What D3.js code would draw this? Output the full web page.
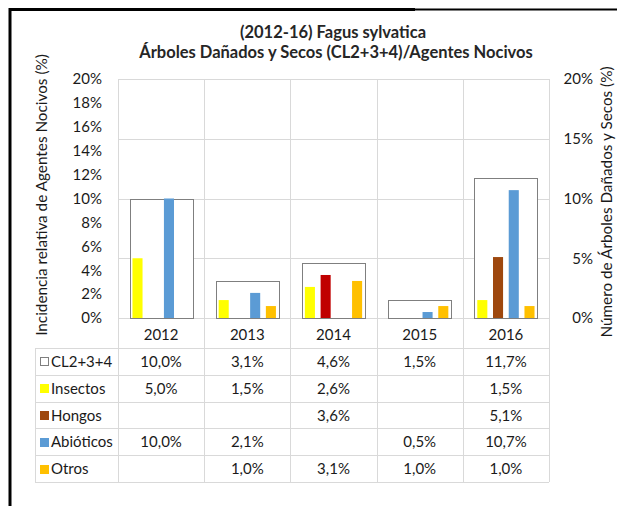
<!DOCTYPE html>
<html>
<head>
<meta charset="utf-8">
<script src="https://cdn.jsdelivr.net/npm/d3@7"></script>
<style>
  html, body { margin: 0; padding: 0; background: #fff; }
  svg { display: block; font-family: Lato, "Open Sans", sans-serif; }
</style>
</head>
<body>
<div id="chart"></div>
<script>
// ==================== données ====================//
const years = ["2012", "2013", "2014", "2015", "2016"];
const seriesNames = ["Insectos", "Hongos", "Abióticos", "Otros"];

// Árboles dañados y secos (eje derecho)
const cl234 = [10.0, 3.1, 4.6, 1.5, 11.7];
// agentes nocivos (eje izquierdo)
const insectos = [5.0, 1.5, 2.6, null, 1.5];
const hongos = [null, null, 3.6, null, 5.1];
const abioticos = [10.0, 2.1, null, 0.5, 10.7];
const otros = [null, 1.0, 3.1, 1.0, 1.0];

const leftTicks = [0, 2, 4, 6, 8, 10, 12, 14, 16, 18, 20];
const rightTicks = [0, 5, 10, 15, 20];

const seriesValues = [insectos, hongos, abioticos, otros];
const seriesColors = ["#FFFF00", "#9E480E", "#5B9BD5", "#FFC000"];
// en 2014 la barra de hongos sale en rojo
const hongos2014Color = "#C00000";

// ==================== mise en page ====================//
const width = 617;
const height = 506;
const plotLeft = 118, plotRight = 549, plotTop = 79, plotBottom = 318;
const tableLeft = 35, tableTop = 348, rowH = 26.8;
const textColor = "#1a1a1a";
const gridColor = "#d9d9d9";
const fs = 15;

const svg = d3.select("#chart")
    .append("svg")
    .attr("width", width)
    .attr("height", height);

// cadre noir (à gauche et en haut seulement, le reste sort de l'image)
svg.append("path")
    .attr("d", `M10,${height} L10,9.5 L415,9.5`)
    .attr("fill", "none")
    .attr("stroke", "#000")
    .attr("stroke-width", 3);
svg.append("line")
    .attr("x1", 415).attr("x2", width)
    .attr("y1", 9.5).attr("y2", 9.5)
    .attr("stroke", "#000")
    .attr("stroke-width", 2);

const x = d3.scaleBand()
    .domain(years)
    .range([plotLeft, plotRight])
    .padding(0);

const y = d3.scaleLinear()
    .domain([0, 20])
    .range([plotBottom, plotTop]);

// barre CL2+3+4 dans chaque colonne
const outer = d3.scaleBand()
    .domain(["cl"])
    .range([0, x.bandwidth()])
    .paddingOuter(0.185);

// barres des agents à l'intérieur de la barre CL
const inner = d3.scaleBand()
    .domain(seriesNames)
    .range([0, outer.bandwidth()])
    .paddingInner(0.36)
    .paddingOuter(0.18);

// grille horizontale
svg.append("g")
    .selectAll("line")
    .data(rightTicks)
    .enter()
    .append("line")
    .attr("x1", plotLeft).attr("x2", plotRight)
    .attr("y1", d => Math.round(y(d)) + 0.5)
    .attr("y2", d => Math.round(y(d)) + 0.5)
    .attr("stroke", gridColor);

// lignes verticales (colonnes + tableau)
const tableBottom = tableTop + rowH * 5;
const colEdges = years.map(d => x(d)).concat([plotRight]);
svg.append("g")
    .selectAll("line")
    .data(colEdges)
    .enter()
    .append("line")
    .attr("x1", d => Math.round(d) + 0.5)
    .attr("x2", d => Math.round(d) + 0.5)
    .attr("y1", plotTop)
    .attr("y2", tableBottom)
    .attr("stroke", gridColor);

// lignes horizontales du tableau
svg.append("g")
    .selectAll("line")
    .data(d3.range(6))
    .enter()
    .append("line")
    .attr("x1", tableLeft)
    .attr("x2", plotRight)
    .attr("y1", i => Math.round(tableTop + i * rowH) + 0.5)
    .attr("y2", i => Math.round(tableTop + i * rowH) + 0.5)
    .attr("stroke", gridColor);
svg.append("line")
    .attr("x1", tableLeft + 0.5).attr("x2", tableLeft + 0.5)
    .attr("y1", tableTop).attr("y2", tableBottom)
    .attr("stroke", gridColor);

// ==================== barres ====================//
svg.append("g")
    .selectAll("rect")
    .data(years.map((yr, i) => ({ yr, v: cl234[i] })))
    .enter()
    .append("rect")
    .attr("x", d => Math.round(x(d.yr) + outer("cl")) + 0.5)
    .attr("y", d => Math.round(y(d.v)) + 0.5)
    .attr("width", Math.round(outer.bandwidth()))
    .attr("height", d => Math.round(y(0)) - Math.round(y(d.v)))
    .attr("fill", "#fff")
    .attr("stroke", "#7f7f7f")
    .attr("stroke-width", 1);

const barData = [];
seriesNames.forEach((s, si) => {
    years.forEach((yr, i) => {
        const v = seriesValues[si][i];
        if (v === null) return;
        let color = seriesColors[si];
        if (s === "Hongos" && yr === "2014") color = hongos2014Color;
        barData.push({ s, yr, v, color });
    });
});

svg.append("g")
    .selectAll("rect")
    .data(barData)
    .enter()
    .append("rect")
    .attr("x", d => x(d.yr) + outer("cl") + inner(d.s))
    .attr("y", d => y(d.v))
    .attr("width", inner.bandwidth())
    .attr("height", d => y(0) - y(d.v))
    .attr("fill", d => d.color);

// ==================== axes ====================//
const leftAxis = svg.append("g")
    .attr("transform", `translate(${plotLeft},0)`)
    .call(d3.axisLeft(y).tickValues(leftTicks).tickFormat(d => d + "%").tickSize(0).tickPadding(16));
leftAxis.select(".domain").remove();
leftAxis.selectAll("text")
    .attr("font-family", "Lato, sans-serif")
    .attr("font-size", fs)
    .attr("fill", textColor);

const rightAxis = svg.append("g")
    .attr("transform", `translate(${plotRight},0)`)
    .call(d3.axisRight(y).tickValues(rightTicks).tickFormat(d => d + "%").tickSize(0));
rightAxis.select(".domain").remove();
rightAxis.selectAll("text")
    .attr("x", 44)
    .attr("text-anchor", "end")
    .attr("font-family", "Lato, sans-serif")
    .attr("font-size", fs)
    .attr("fill", textColor);

// titres des axes
svg.append("text")
    .attr("transform", "translate(47,195) rotate(-90)")
    .attr("text-anchor", "middle")
    .attr("font-size", 15.3)
    .attr("fill", textColor)
    .text("Incidencia relativa de Agentes Nocivos (%)");

svg.append("text")
    .attr("transform", "translate(612,202) rotate(-90)")
    .attr("text-anchor", "middle")
    .attr("font-size", 15.3)
    .attr("fill", textColor)
    .text("Número de Árboles Dañados y Secos (%)");

// titre
const title = svg.append("g")
    .attr("font-weight", "bold")
    .attr("font-size", 16.5)
    .attr("fill", "#262626")
    .attr("text-anchor", "middle");
title.append("text").attr("x", 333).attr("y", 38).text("(2012-16) Fagus sylvatica");
title.append("text").attr("x", 336).attr("y", 58).text("Árboles Dañados y Secos (CL2+3+4)/Agentes Nocivos");

// ==================== tableau ====================//
svg.append("g")
    .selectAll("text")
    .data(years)
    .enter()
    .append("text")
    .attr("x", d => x(d) + x.bandwidth() / 2)
    .attr("y", 340)
    .attr("text-anchor", "middle")
    .attr("font-size", fs)
    .attr("fill", textColor)
    .text(d => d);

const fmt = v => d3.format(".1f")(v).replace(".", ",") + "%";
const tableRows = [
    { name: "CL2+3+4", values: cl234, color: "#fff", outline: true }
].concat(seriesNames.map((s, si) => ({ name: s, values: seriesValues[si], color: seriesColors[si], outline: false })));

tableRows.forEach((row, ri) => {
    const cy = tableTop + rowH * ri + rowH / 2;
    svg.append("rect")
        .attr("x", row.outline ? 40.5 : 40)
        .attr("y", row.outline ? Math.round(cy - 4) + 0.5 : Math.round(cy - 4))
        .attr("width", row.outline ? 8 : 9)
        .attr("height", row.outline ? 8 : 9)
        .attr("fill", row.color)
        .attr("stroke", row.outline ? "#7f7f7f" : "none");
    svg.append("text")
        .attr("x", 51)
        .attr("y", cy + 5.5)
        .attr("font-size", fs)
        .attr("fill", textColor)
        .text(row.name);
    svg.append("g")
        .selectAll("text")
        .data(years.map((yr, i) => ({ yr, v: row.values[i] })).filter(d => d.v !== null))
        .enter()
        .append("text")
        .attr("x", d => x(d.yr) + x.bandwidth() / 2)
        .attr("y", cy + 5.5)
        .attr("text-anchor", "middle")
        .attr("font-size", fs)
        .attr("fill", textColor)
        .text(d => fmt(d.v));
});
</script>
</body>
</html>
